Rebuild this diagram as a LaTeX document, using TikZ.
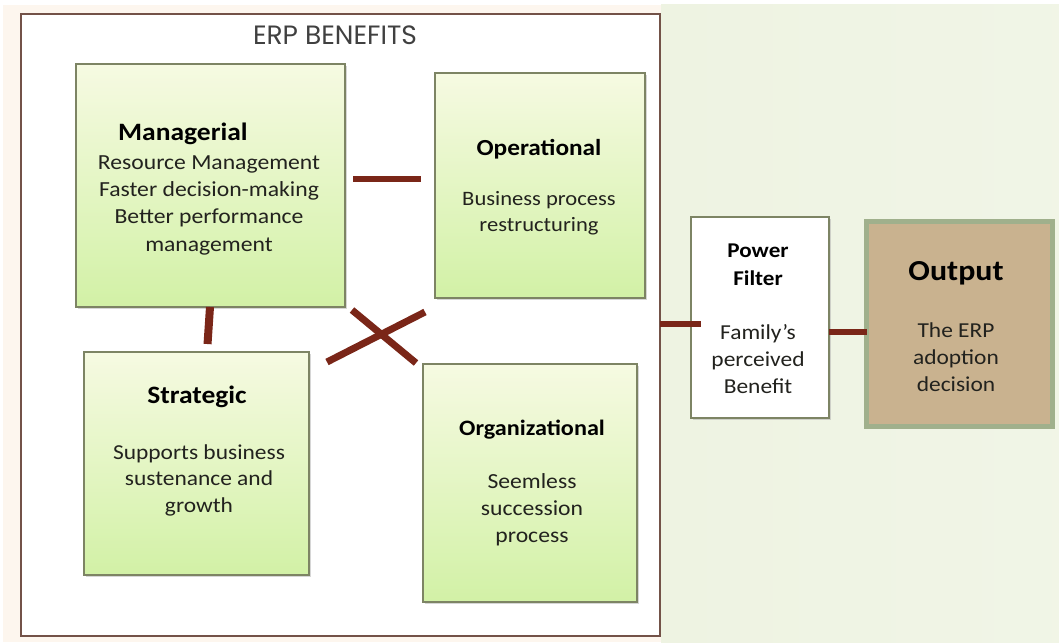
\documentclass[tikz,border=0pt]{standalone}
\usepackage{fontspec}
\setmainfont{Carlito}[FakeStretch=1.1]
\newfontfamily\headfont{Poppins}
\usetikzlibrary{shadows}

\definecolor{linkred}{RGB}{122,38,24}
\definecolor{boxline}{RGB}{125,132,100}
\definecolor{greentop}{RGB}{246,250,226}
\definecolor{greenbot}{RGB}{210,241,166}
\definecolor{framecol}{RGB}{115,82,72}
\definecolor{creamcol}{RGB}{253,246,238}
\definecolor{sagebg}{RGB}{238,243,226}
\definecolor{tanfill}{RGB}{201,178,143}
\definecolor{sageline}{RGB}{160,176,140}
\definecolor{bodytext}{RGB}{34,34,30}

\tikzset{
  benefit/.style={draw=boxline, line width=1.3pt, top color=greentop, bottom color=greenbot,
    minimum width=#1, outer sep=0pt, inner sep=0pt,
    drop shadow={shadow xshift=2pt, shadow yshift=-2pt, fill=black!35, opacity=.45}},
  link/.style={draw=linkred, line width=6pt},
  title/.style={text=black, anchor=base, inner sep=0pt, align=center},
  body/.style={text=bodytext, anchor=base, inner sep=0pt, align=center},
}
% bold title font at a given size
\newcommand{\ttlfont}[1]{\bfseries\fontsize{#1}{28}\selectfont}
% body font at a given size and line distance
\newcommand{\bdyfont}[2]{\fontsize{#1}{#2}\selectfont}

\begin{document}
\begin{tikzpicture}[x=1pt,y=-1pt]
\useasboundingbox (0,0) rectangle (1059,642);

% page background
\fill[white] (0,0) rectangle (1059,642);
\fill[creamcol] (3,5) rectangle (661,642);
\shade[left color=sagebg, right color=sagebg!85!white] (661,5) rectangle (1059,642);

% outer frame of the benefit group
\node[draw=framecol, line width=1.4pt, fill=white, minimum width=639pt, minimum height=622pt,
      inner sep=0pt, outer sep=0pt] (frame) at (340.5,325) {};
\node[font=\headfont\fontsize{26.5}{30}\selectfont, text=black!75, anchor=base] (head) at (335,45) {ERP BENEFITS};

% the four benefit boxes
\node[benefit=269pt, minimum height=243pt] (mgr) at (210.5,185.5) {};
\node[benefit=210pt, minimum height=225pt] (op)  at (540,185.5) {};
\node[benefit=225pt, minimum height=223pt] (str) at (196.5,463.5) {};
\node[benefit=214pt, minimum height=238pt] (org) at (530,483) {};

% filter and output
\node[draw=boxline, line width=1.3pt, fill=white, minimum width=138pt, minimum height=201pt,
      inner sep=0pt, outer sep=0pt,
      drop shadow={shadow xshift=2pt, shadow yshift=-2pt, fill=black!35, opacity=.45}] (pf) at (760,317.5) {};
\node[draw=sageline, line width=5pt, fill=tanfill, minimum width=186pt, minimum height=205pt,
      inner sep=0pt, outer sep=0pt] (out) at (959.5,324) {};

% connectors
\draw[link, shorten <=8pt, shorten >=14pt] ([yshift=6.5pt]mgr.east) -- ([yshift=6.5pt]op.west);
\draw[link, line width=8pt, shorten >=8pt] ([xshift=-0.5pt]mgr.south) -- ([xshift=10.5pt]str.north);
\draw[link, line width=7pt] ([shift={(18,10)}]str.north east) -- ([shift={(-10,14)}]op.south west);
\draw[link, line width=7pt] ([shift={(7,3)}]mgr.south east) -- ([shift={(-7,-1)}]org.north west);
\coordinate (pfin) at ([yshift=-6.5pt]pf.west);
\draw[link] (pfin -| frame.east) -- ([xshift=10pt]pfin);
\coordinate (pfout) at ([yshift=-14.5pt]pf.east);
\draw[link] (pfout) -- (pfout -| out.west);

% texts (body nodes are placed at the baseline of their last line)
\node[title, anchor=base west, font=\ttlfont{25}] (mgrT) at (118,140) {Managerial};
\node[body, font=\bdyfont{21.5}{27.3}] (mgrB) at (209,251)
  {Resource Management\\Faster decision-making\\Better performance\\management};

\node[title, font=\ttlfont{23}] (opT) at (539,155) {Operational};
\node[body, font=\bdyfont{20.5}{26}] (opB) at (539,231) {Business process\\restructuring};

\node[title, font=\ttlfont{25}] (strT) at (197,403) {Strategic};
\node[body, font=\bdyfont{21.3}{26.5}] (strB) at (199,512) {Supports business\\sustenance and\\growth};

\node[title, font=\ttlfont{22}] (orgT) at (532,435) {Organizational};
\node[body, font=\bdyfont{21.5}{27}] (orgB) at (532,542) {Seemless\\succession\\process};

\node[title, font=\ttlfont{21}] (pfT) at (758,285) {Power\\Filter};
\node[body, font=\bdyfont{21.3}{27}] (pfB) at (758,393) {Family's\\perceived\\Benefit};

\node[title, font=\ttlfont{29}] (outT) at (956,280) {Output};
\node[body, font=\bdyfont{21.3}{27}] (outB) at (956,391) {The ERP\\adoption\\decision};
\end{tikzpicture}
\end{document}
